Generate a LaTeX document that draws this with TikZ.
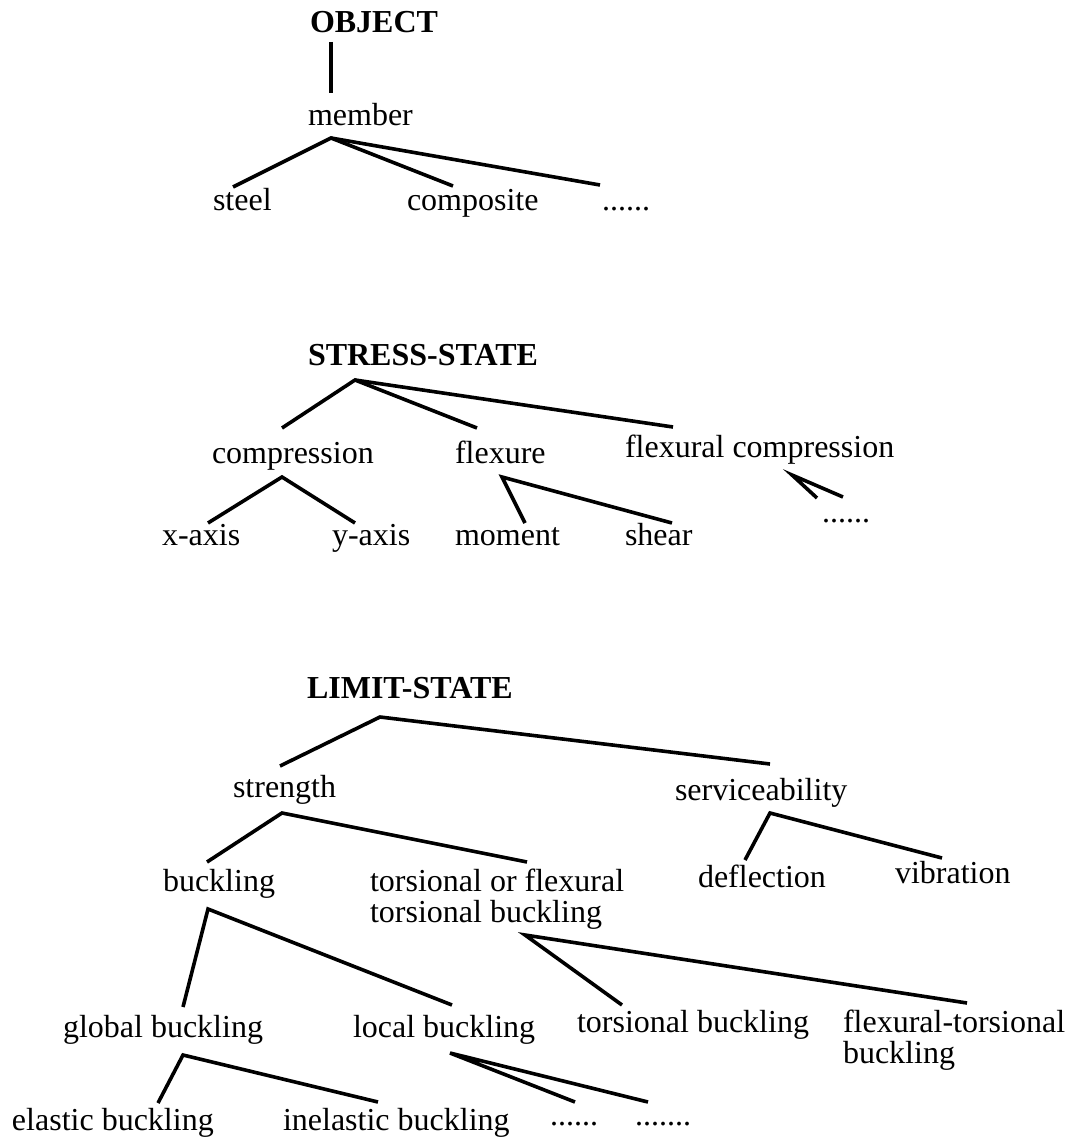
\documentclass[tikz,border=0pt]{standalone}
\usepackage{fontspec}
\setmainfont{Liberation Serif}
\begin{document}
\begin{tikzpicture}[x=1pt,y=-1pt,
  lbl/.style={anchor=base west,inner sep=0pt,outer sep=0pt,
    font=\fontsize{32}{31}\selectfont},
  head/.style={lbl,font=\fontsize{32}{31}\selectfont\bfseries},
  twoline/.style={lbl,align=left},
  branch/.style={draw=black,line width=3.6pt}]
\useasboundingbox (0,0) rectangle (1078,1140);

% ---- object hierarchy ----
\node[head] (object) at (310,33) {OBJECT};
\node[lbl] (member) at (308,125) {member};
\node[lbl] (steel) at (213,210) {steel};
\node[lbl] (composite) at (407,210) {composite};
\node[lbl] (objmore) at (602,210) {......};

\coordinate (objectB) at (331,42);
\coordinate (memberT) at (331,93);
\coordinate (memberJ) at (331,138);
\coordinate (steelT) at (233,187);
\coordinate (compositeT) at (453,186);
\coordinate (objmoreT) at (600,185);
\draw[branch] (objectB) -- (memberT);
\draw[branch] (steelT) -- (memberJ) -- (compositeT);
\draw[branch] (memberJ) -- (objmoreT);

% ---- stress-state hierarchy ----
\node[head] (stress) at (308,365) {STRESS-STATE};
\node[lbl] (compression) at (212,463) {compression};
\node[lbl] (flexure) at (455,463) {flexure};
\node[lbl] (flexcomp) at (625,457) {flexural compression};
\node[lbl] (xaxis) at (162,545) {x-axis};
\node[lbl] (yaxis) at (332,545) {y-axis};
\node[lbl] (moment) at (455,545) {moment};
\node[lbl] (shear) at (625,545) {shear};
\node[lbl] (flexmore) at (822,522) {......};

\coordinate (stressJ) at (355,380);
\coordinate (compressionT) at (282,428);
\coordinate (flexureT) at (477,428);
\coordinate (flexcompT) at (673,427);
\coordinate (compressionJ) at (282,477);
\coordinate (xaxisT) at (208,523);
\coordinate (yaxisT) at (355,523);
\coordinate (flexureJ) at (502,477);
\coordinate (momentT) at (525,523);
\coordinate (shearT) at (672,523);
\coordinate (flexcompJ) at (792,475);
\coordinate (flexmoreTa) at (817,498);
\coordinate (flexmoreTb) at (843,497);
\draw[branch] (compressionT) -- (stressJ) -- (flexureT);
\draw[branch] (stressJ) -- (flexcompT);
\draw[branch] (xaxisT) -- (compressionJ) -- (yaxisT);
\draw[branch] (momentT) -- (flexureJ) -- (shearT);
\draw[branch] (flexmoreTa) -- (flexcompJ) -- (flexmoreTb);

% ---- limit-state hierarchy ----
\node[head] (limit) at (307,698) {LIMIT-STATE};
\node[lbl] (strength) at (233,797) {strength};
\node[lbl] (service) at (675,800) {serviceability};
\node[lbl] (buckling) at (163,891) {buckling};
% two-line labels: the base anchor sits on the last line
\node[twoline] (tofl) at (370,922) {torsional or flexural\\torsional buckling};
\node[lbl] (deflection) at (698,887) {deflection};
\node[lbl] (vibration) at (895,883) {vibration};
\node[lbl] (global) at (63,1037) {global buckling};
\node[lbl] (local) at (353,1037) {local buckling};
\node[lbl] (torsional) at (577,1032) {torsional buckling};
\node[twoline] (flextors) at (843,1063) {flexural-torsional\\buckling};
\node[lbl] (elastic) at (12,1130) {elastic buckling};
\node[lbl] (inelastic) at (283,1130) {inelastic buckling};
\node[lbl] (localmoreA) at (550,1125) {......};
\node[lbl] (localmoreB) at (635,1125) {.......};

\coordinate (limitJ) at (380,717);
\coordinate (strengthT) at (280,766);
\coordinate (serviceT) at (770,764);
\coordinate (strengthJ) at (282,813);
\coordinate (bucklingT) at (207,862);
\coordinate (toflT) at (527,862);
\coordinate (serviceJ) at (770,813);
\coordinate (deflectionT) at (745,860);
\coordinate (vibrationT) at (942,858);
\coordinate (bucklingJ) at (208,909);
\coordinate (globalT) at (183,1007);
\coordinate (localT) at (452,1005);
\coordinate (toflJ) at (525,935);
\coordinate (torsionalT) at (622,1005);
\coordinate (flextorsT) at (967,1003);
\coordinate (globalJ) at (183,1055);
\coordinate (elasticT) at (158,1103);
\coordinate (inelasticT) at (378,1102);
\coordinate (localJ) at (450,1053);
\coordinate (localmoreAT) at (575,1102);
\coordinate (localmoreBT) at (648,1102);
\draw[branch] (strengthT) -- (limitJ) -- (serviceT);
\draw[branch] (bucklingT) -- (strengthJ) -- (toflT);
\draw[branch] (deflectionT) -- (serviceJ) -- (vibrationT);
\draw[branch] (globalT) -- (bucklingJ) -- (localT);
\draw[branch] (torsionalT) -- (toflJ) -- (flextorsT);
\draw[branch] (elasticT) -- (globalJ) -- (inelasticT);
\draw[branch] (localmoreAT) -- (localJ) -- (localmoreBT);
\end{tikzpicture}
\end{document}
